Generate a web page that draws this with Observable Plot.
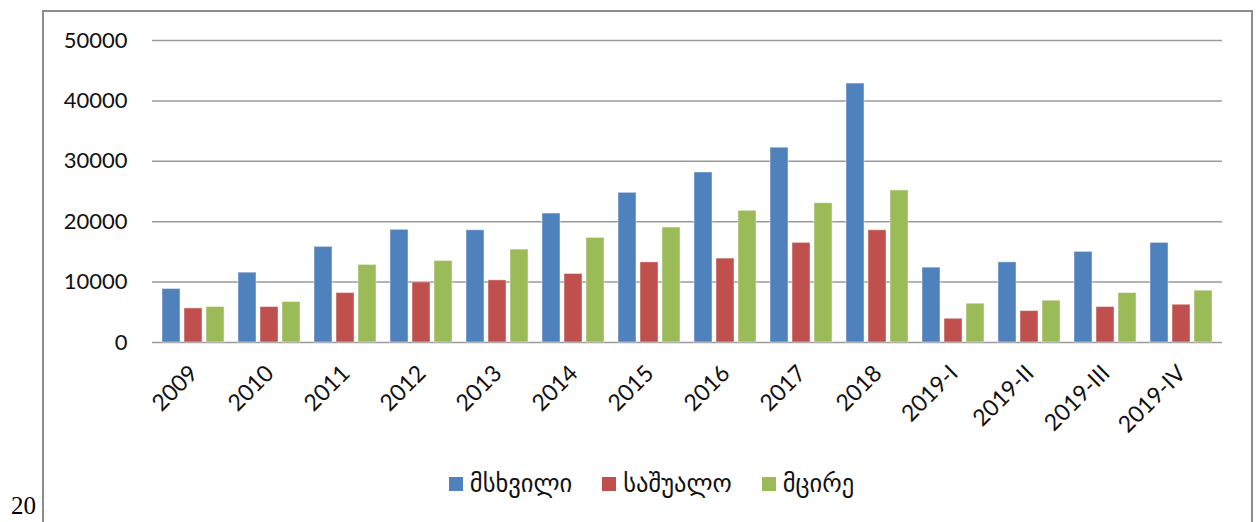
<!DOCTYPE html>
<html>
<head>
<meta charset="utf-8">
<script src="https://cdn.jsdelivr.net/npm/d3@7"></script>
<script src="https://cdn.jsdelivr.net/npm/@observablehq/plot@0.6"></script>
<style>
  html, body { margin: 0; padding: 0; background: #fff; }
  #wrap { position: relative; width: 1259px; height: 522px; overflow: hidden; background: #fff; }
  #frame { position: absolute; left: 42px; top: 10px; width: 1211px; height: 530px; border: 2px solid #8c8c8c; box-sizing: border-box; }
  .layer { position: absolute; left: 0; top: 0; }
  #legend { position: absolute; left: 0; top: 469px; width: 1259px; display: flex; justify-content: center; gap: 30px; font-family: "DejaVu Sans", sans-serif; font-size: 24.5px; color: #111; padding-left: 44px; box-sizing: border-box; }
  .item { display: flex; align-items: center; gap: 7px; }
  .sw { width: 14px; height: 14px; display: inline-block; }
  #corner { position: absolute; left: 11px; top: 493px; font-family: "Liberation Serif", serif; font-size: 25px; line-height: 1; color: #000; }
</style>
</head>
<body>
<div id="wrap">
  <div id="frame"></div>
  <div id="gridLayer" class="layer"></div>
  <div id="barLayer" class="layer"></div>
  <div id="legend"></div>
  <div id="corner">20</div>
</div>
<script>
const categories = ["2009","2010","2011","2012","2013","2014","2015","2016","2017","2018","2019-I","2019-II","2019-III","2019-IV"];
const series = ["მსხვილი","საშუალო","მცირე"];
const large  = [8860, 11560, 15830, 18650, 18580, 21350, 24780, 28150, 32250, 42870, 12390, 13270, 15000, 16490];
const medium = [5640, 5870, 8190, 9950, 10290, 11350, 13270, 13890, 16490, 18580, 3930, 5200, 5870, 6250];
const small  = [5870, 6700, 12840, 13500, 15380, 17320, 19030, 21800, 23060, 25170, 6420, 6920, 8190, 8580];
const yTicks = [0, 10000, 20000, 30000, 40000, 50000];
const colors = ["#4F81BD", "#C0504D", "#9BBB59"];

const seriesValues = [large, medium, small];
const table = [];
categories.forEach((c, i) => {
  series.forEach((s, j) => table.push({cat: c, series: s, value: seriesValues[j][i]}));
});

const W = 1259, H = 460;
const margins = {marginLeft: 152, marginRight: 37, marginTop: 40, marginBottom: 118};
const fontStyle = "font-family: Lato, 'Open Sans', sans-serif; font-size: 22px; color: #111; background: transparent;";

const gridPlot = Plot.plot({
  width: W, height: H, ...margins,
  style: fontStyle,
  y: {domain: [0, 50000], ticks: 5, tickFormat: d => String(d), tickSize: 0, tickPadding: 25, label: null},
  marks: [
    Plot.ruleY(yTicks, {stroke: "#9a9a9a", strokeWidth: 1.5})
  ]
});
document.getElementById("gridLayer").appendChild(gridPlot);

const barPlot = Plot.plot({
  width: W, height: H, ...margins,
  style: fontStyle.replace("22px", "23px"),
  fx: {domain: categories, paddingInner: 0.175, paddingOuter: 0.0875, label: null, tickRotate: -45, tickSize: 0, tickPadding: 27},
  x: {domain: series, paddingInner: 0.18, paddingOuter: 0, axis: null},
  y: {domain: [0, 50000], axis: null},
  color: {domain: series, range: colors},
  marks: [
    Plot.barY(table, {fx: "cat", x: "series", y: "value", fill: "series", stroke: "white", strokeOpacity: 0.45, strokeWidth: 1})
  ]
});
document.getElementById("barLayer").appendChild(barPlot);

const legend = document.getElementById("legend");
series.forEach((s, j) => {
  const it = document.createElement("div");
  it.className = "item";
  const sw = document.createElement("span");
  sw.className = "sw";
  sw.style.background = colors[j];
  const t = document.createElement("span");
  t.textContent = s;
  it.appendChild(sw); it.appendChild(t);
  legend.appendChild(it);
});
</script>
</body>
</html>
